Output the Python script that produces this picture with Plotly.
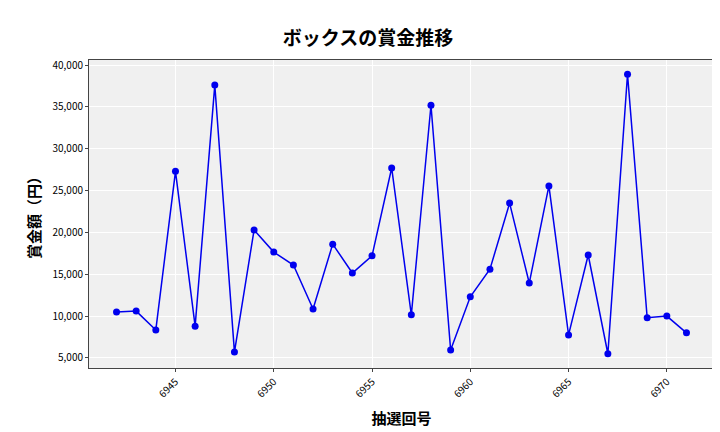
import plotly.graph_objects as go

draws = list(range(6942, 6972))
prizes = [10500, 10600, 8350, 27300, 8800, 37600, 5700, 20300, 17650, 16100,
          10850, 18600, 15150, 17200, 27700, 10150, 35200, 5950, 12300, 15600,
          23500, 13950, 25550, 7750, 17300, 5500, 38900, 9800, 10000, 8000]

fig = go.Figure(go.Scatter(x=draws, y=prizes, mode="lines+markers",
                           line=dict(color="#0000ee", width=1.5),
                           marker=dict(color="#0000ee", size=7)))
font = "Noto Sans CJK JP"
fig.update_layout(
    width=720, height=432, margin=dict(l=81, r=14, t=52, b=72, autoexpand=False),
    paper_bgcolor="white", plot_bgcolor="#f0f0f0",
    font=dict(family=font, size=11, color="black"),
    title=dict(text="<b>ボックスの賞金推移</b>", x=0.5, xanchor="center", y=0.945,
               font=dict(size=19, family=font)),
    showlegend=False,
)
fig.update_xaxes(title=dict(text="<b>抽選回号</b>", font=dict(size=15), standoff=14),
                 tickangle=-45, automargin=False,
                 tickvals=[6945, 6950, 6955, 6960, 6965, 6970],
                 range=[6940.6, 6972.4], gridcolor="white", showline=True,
                 linecolor="#444", mirror=True, ticks="outside", ticklen=3,
                 tickfont=dict(size=10))
fig.update_yaxes(title=dict(text="<b>賞金額（円）</b>", font=dict(size=15), standoff=8),
                 automargin=False,
                 tickformat=",", tickvals=list(range(5000, 40001, 5000)),
                 range=[3800, 40600], gridcolor="white", showline=True,
                 linecolor="#444", mirror=True, ticks="outside", ticklen=3,
                 tickfont=dict(size=10))
fig.write_html("out.html")
